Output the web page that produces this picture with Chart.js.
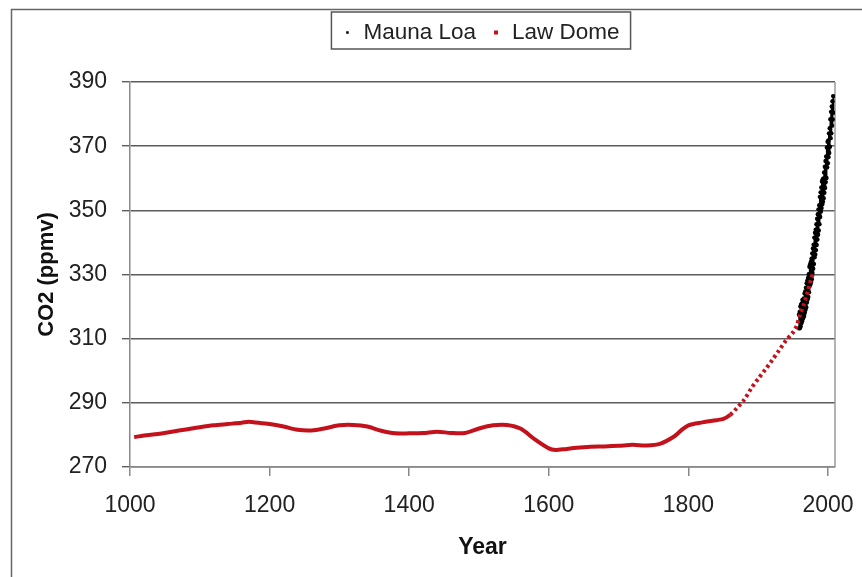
<!DOCTYPE html>
<html>
<head>
<meta charset="utf-8">
<script src="https://cdn.jsdelivr.net/npm/chart.js@4.4.1/dist/chart.umd.min.js"></script>
<style>
  html, body { margin:0; padding:0; background:#fff; overflow:hidden; }
  #wrap { width:862px; height:577px; }
</style>
</head>
<body>
<div id="wrap"><canvas id="chart" width="862" height="577"></canvas></div>
<script>
// Law Dome ice core (red)
const lawYears = [1006,1020,1040,1060,1080,1100,1120,1140,1160,1170,1180,1200,1220,1240,1260,1280,1300,1320,1340,1360,1380,1400,1420,1440,1460,1480,1500,1520,1540,1560,1580,1600,1610,1620,1640,1660,1680,1700,1720,1740,1760,1780,1790,1800,1820,1840,1850,1860,1870,1880,1890,1900,1910,1920,1930,1940,1950,1955,1960,1965,1970,1975,1978];
const lawCO2 = [279.3,279.8,280.3,281.0,281.7,282.4,283.0,283.4,283.8,284.1,283.9,283.4,282.6,281.6,281.4,282.1,283.0,283.1,282.6,281.3,280.5,280.5,280.6,281.0,280.6,280.6,282.0,283.0,283.1,281.9,278.6,275.8,275.3,275.5,276.0,276.3,276.4,276.6,276.9,276.7,277.3,279.6,281.5,283.0,283.9,284.6,285.0,286.3,288.5,291.0,294.5,297.5,300.3,303.3,306.4,309.5,312.0,314.0,317.5,320.5,324.0,328.0,330.0];

// Mauna Loa (black): yearly seasonal high and low
const mlYears = [1958,1959,1960,1961,1962,1963,1964,1965,1966,1967,1968,1969,1970,1971,1972,1973,1974,1975,1976,1977,1978,1979,1980,1981,1982,1983,1984,1985,1986,1987,1988,1989,1990,1991,1992,1993,1994,1995,1996,1997,1998,1999,2000,2001,2002,2003,2004,2005,2006,2007];
const mlHigh = [317.5,318.3,320.0,320.6,321.0,322.1,322.2,322.5,324.1,324.7,325.9,327.3,328.1,328.9,330.1,332.4,333.2,333.9,334.9,336.6,338.1,339.3,341.5,343.0,344.0,345.7,347.4,348.8,350.3,351.6,354.2,355.6,357.1,359.0,359.6,359.9,361.8,363.6,365.4,366.8,369.6,371.4,371.8,374.0,375.6,378.4,380.7,382.4,384.0,385.6];
const mlLow = [313.2,313.3,313.8,314.8,315.4,316.1,316.6,317.1,318.1,319.0,319.8,321.3,322.2,323.0,324.5,326.4,327.0,327.7,328.5,330.5,331.8,333.3,335.4,336.2,337.6,339.2,340.9,342.4,343.7,345.7,347.9,349.6,350.7,351.9,352.7,353.8,355.5,357.0,358.8,360.1,363.4,364.7,366.6,367.9,369.8,372.5,374.0,376.4,378.3,380.4];

const yTicks = [270,290,310,330,350,370,390];
const xTicks = [1000,1200,1400,1600,1800,2000];

const FONT = '"Liberation Sans", Arial, sans-serif';
const RED = "#c4121c";

const lawData = lawYears.map((y,i)=>({x:y, y:lawCO2[i]}));
const mlData = mlYears.flatMap((y,i)=>[{x:y+0.37, y:mlHigh[i]}, {x:y+0.78, y:mlLow[i]}]);

const frame = {
  id:"frame",
  beforeDraw(chart){
    const c = chart.ctx;
    c.save();
    c.fillStyle = "#fff";
    c.fillRect(0,0,chart.width,chart.height);
    c.strokeStyle = "#666";
    c.lineWidth = 1.5;
    c.strokeRect(11.5, 9.5, 1000, 1000);
    c.restore();
  },
  beforeDatasetsDraw(chart){
    const a = chart.chartArea, c = chart.ctx;
    c.save();
    c.strokeStyle = "#9a9a9a";
    c.lineWidth = 1.5;
    c.beginPath();
    c.moveTo(a.right, a.top); c.lineTo(a.right, a.bottom);
    c.stroke();
    c.restore();
  }
};

const boxLegend = {
  id:"boxLegend",
  afterDraw(chart){
    const c = chart.ctx;
    const ds = chart.data.datasets;
    c.save();
    c.font = "22.5px " + FONT;
    c.textBaseline = "middle";
    const widths = ds.map(d=>c.measureText(d.label).width);
    const padL = 16, mGap = 16, itemGap = 20, padR = 11;
    const total = padL + widths.reduce((s,w)=>s+mGap+w,0) + itemGap*(ds.length-1) + padR;
    const left = 481 - total/2, top = 12, bottom = 49;
    const midY = 32.5;
    c.fillStyle = "#fff";
    c.fillRect(left, top, total, bottom-top);
    c.strokeStyle = "#555";
    c.lineWidth = 1.5;
    c.strokeRect(left, top, total, bottom-top);
    let x = left + padL;
    ds.forEach((d,i)=>{
      c.fillStyle = d.legendColor;
      const s = d.legendSize;
      c.fillRect(x - s/2, midY - s/2, s, s);
      c.fillStyle = "#222";
      c.fillText(d.label, x + mGap, midY);
      x += mGap + widths[i] + itemGap;
    });
    c.restore();
  }
};

new Chart(document.getElementById("chart"), {
  type:"scatter",
  data:{
    datasets:[
      {
        label:"Mauna Loa",
        data: mlData,
        showLine:true,
        borderColor:"#000",
        backgroundColor:"#000",
        borderWidth:1.5,
        pointRadius:2.2,
        pointBorderWidth:0,
        legendColor:"#000",
        legendSize:2.5,
        order:1
      },
      {
        label:"Law Dome",
        data: lawData,
        showLine:true,
        borderColor:RED,
        backgroundColor:RED,
        borderWidth:4,
        pointRadius:0,
        tension:0.3,
        segment:{
          borderDash: ctx => ctx.p0.parsed.x >= 1860 ? [3,3] : undefined
        },
        legendColor:RED,
        legendSize:4,
        order:0
      }
    ]
  },
  options:{
    responsive:false,
    animation:false,
    layout:{ padding:{ top:82, right:27, bottom:0, left:0 } },
    plugins:{ legend:{ display:false }, tooltip:{ enabled:false } },
    scales:{
      x:{
        type:"linear",
        min:1000, max:2010,
        afterBuildTicks: s => { s.ticks = xTicks.map(v=>({value:v})); },
        afterFit: s => { s.height = 110; s.paddingLeft = 0; s.paddingRight = 0; },
        ticks:{ color:"#222", font:{ family:FONT, size:23 }, padding:16, maxRotation:0, callback: v => String(v) },
        grid:{ drawOnChartArea:false, tickLength:9, color:"#888", lineWidth:1.5 },
        border:{ color:"#888", width:1.5 },
        title:{ display:true, text:"Year", color:"#111", font:{ family:FONT, size:23, weight:"bold" }, padding:{ top:0, bottom:16 } }
      },
      y:{
        min:270, max:390,
        afterBuildTicks: s => { s.ticks = yTicks.map(v=>({value:v})); },
        afterFit: s => { s.width = 130; },
        ticks:{ color:"#222", font:{ family:FONT, size:23 }, padding:15, callback: v => String(v) },
        grid:{ color:"#5c5c5c", lineWidth:1.4, tickLength:8 },
        border:{ color:"#888", width:1.5 },
        title:{ display:true, text:"CO2 (ppmv)", color:"#111", font:{ family:FONT, size:22, weight:"bold" }, padding:{ top:34, bottom:0 } }
      }
    }
  },
  plugins:[frame, boxLegend]
});
</script>
</body>
</html>
